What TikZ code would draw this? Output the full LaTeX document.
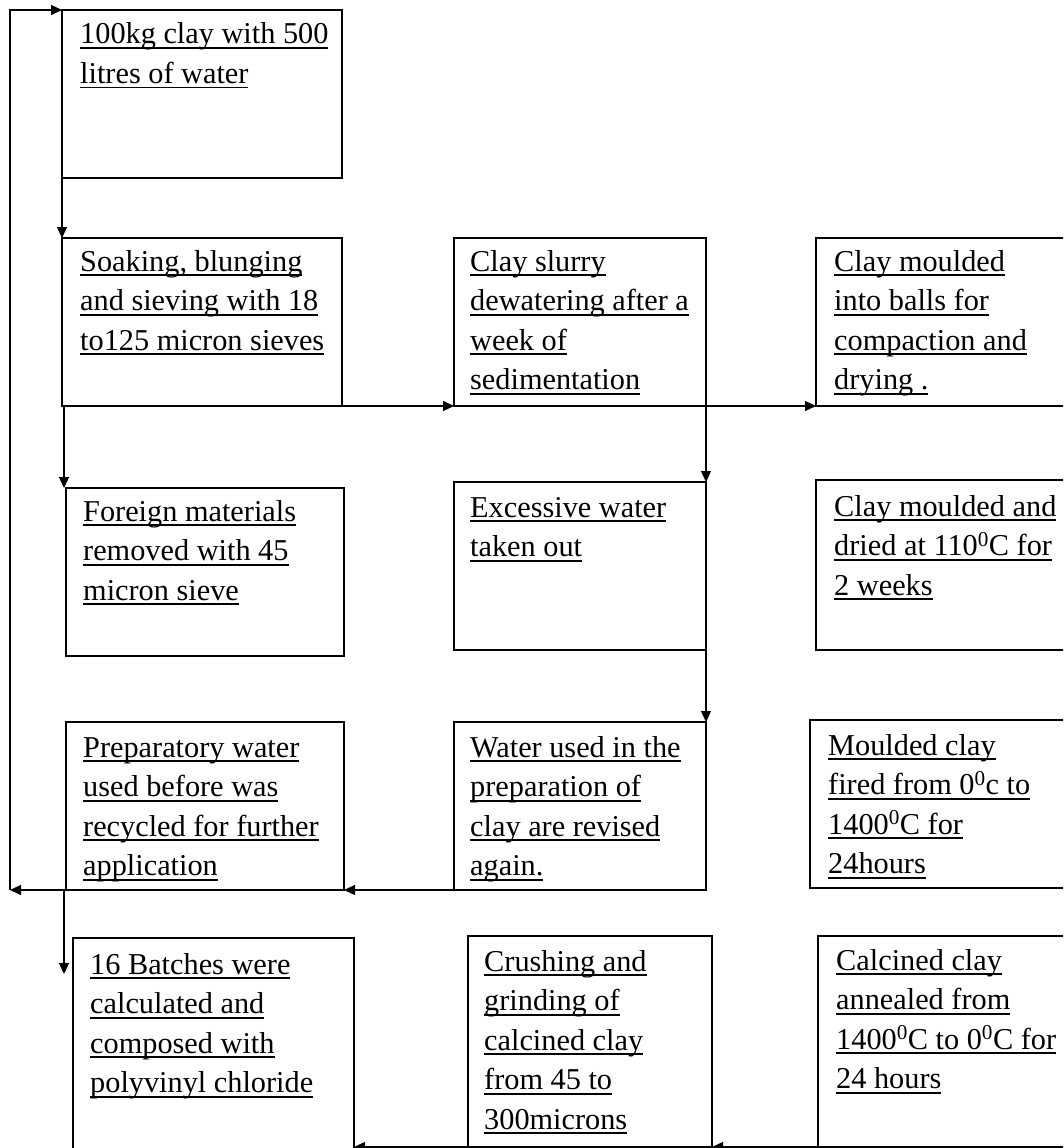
\documentclass[tikz,border=0pt]{standalone}
\usepackage{fontspec}
\setmainfont{Liberation Serif}
\usetikzlibrary{arrows.meta}
\newcommand\ulx[1]{\leavevmode\setbox0\hbox{#1}\rlap{\rule[-5pt]{\wd0}{1.6pt}}\box0}
\newcommand\sdeg{\textsuperscript{0}}
\newcommand\boxlines[1]{\parbox[t]{420pt}{\raggedright #1}}
\begin{document}
\begin{tikzpicture}[x=1pt,y=-1pt,
  boxst/.style={draw, line width=1.3pt, rectangle, inner sep=0pt, outer sep=0pt, anchor=north west},
  txt/.style={anchor=base west, inner sep=0pt, font=\fontsize{30.3}{39.5}\selectfont},
  arr/.style={line width=1.3pt, -{Triangle[length=11pt,width=10pt]}}]
\fill[white] (0,0) rectangle (1063,1148);
\useasboundingbox (0,0) rectangle (1063,1148);
\clip (0,0) rectangle (1063,1148);
% boxes
\node[boxst, minimum width=280pt, minimum height=168pt] (A) at (62,10) {};
\node[boxst, minimum width=280pt, minimum height=168pt] (B) at (62,238) {};
\node[boxst, minimum width=252pt, minimum height=168pt] (C) at (454,238) {};
\node[boxst, minimum width=260pt, minimum height=168pt] (D) at (816,238) {};
\node[boxst, minimum width=278pt, minimum height=168pt] (E) at (66,488) {};
\node[boxst, minimum width=252pt, minimum height=168pt] (F) at (454,482) {};
\node[boxst, minimum width=260pt, minimum height=170pt] (G) at (816,480) {};
\node[boxst, minimum width=278pt, minimum height=168pt] (H) at (66,722) {};
\node[boxst, minimum width=252pt, minimum height=168pt] (I) at (454,722) {};
\node[boxst, minimum width=266pt, minimum height=168pt] (J) at (810,720) {};
\node[boxst, minimum width=281pt, minimum height=240pt] (K) at (73,938) {};
\node[boxst, minimum width=244pt, minimum height=211pt] (L) at (468,936) {};
\node[boxst, minimum width=258pt, minimum height=211pt] (M) at (818,936) {};
% texts
\node[txt] (tA) at (80,44) {\boxlines{\ulx{100kg clay with 500}\\\ulx{litres of water}}};
\node[txt] (tB) at (80,271) {\boxlines{\ulx{Soaking, blunging}\\\ulx{and sieving with 18}\\\ulx{to125 micron sieves}}};
\node[txt] (tC) at (470,271) {\boxlines{\ulx{Clay slurry}\\\ulx{dewatering after a}\\\ulx{week of}\\\ulx{sedimentation}}};
\node[txt] (tD) at (834,271) {\boxlines{\ulx{Clay moulded}\\\ulx{into balls for}\\\ulx{compaction and}\\\ulx{drying .}}};
\node[txt] (tE) at (83,521) {\boxlines{\ulx{Foreign materials}\\\ulx{removed with 45}\\\ulx{micron sieve}}};
\node[txt] (tF) at (470,517) {\boxlines{\ulx{Excessive water}\\\ulx{taken out}}};
\node[txt] (tG) at (834,516) {\boxlines{\ulx{Clay moulded and}\\\ulx{dried at 110\sdeg C for}\\\ulx{2 weeks}}};
\node[txt] (tH) at (83,757) {\boxlines{\ulx{Preparatory water}\\\ulx{used before was}\\\ulx{recycled for further}\\\ulx{application}}};
\node[txt] (tI) at (470,757) {\boxlines{\ulx{Water used in the}\\\ulx{preparation of}\\\ulx{clay are revised}\\\ulx{again.}}};
\node[txt] (tJ) at (828,755) {\boxlines{\ulx{Moulded clay}\\\ulx{fired from 0\sdeg c to}\\\ulx{1400\sdeg C for}\\\ulx{24hours}}};
\node[txt] (tK) at (90,974) {\boxlines{\ulx{16 Batches were}\\\ulx{calculated and}\\\ulx{composed with}\\\ulx{polyvinyl chloride}}};
\node[txt] (tL) at (484,971) {\boxlines{\ulx{Crushing and}\\\ulx{grinding of}\\\ulx{calcined clay}\\\ulx{from 45 to}\\\ulx{300microns}}};
\node[txt] (tM) at (836,970) {\boxlines{\ulx{Calcined clay}\\\ulx{annealed from}\\\ulx{1400\sdeg C to 0\sdeg C for}\\\ulx{24 hours}}};
% coordinates
\coordinate (tl) at (10,10);
\coordinate (bl) at (10,890);
\coordinate (b1) at (64,406);
\coordinate (h1) at (64,890);
\coordinate (k1) at (64,974);
% connectors
\draw[arr] (A.south west) -- (B.north west);
\draw[arr] (B.south east) -- (C.south west);
\draw[arr] (C.south east) -- (D.south west);
\draw[arr] (b1) -- (b1 |- E.north);
\draw[arr] (C.south east) -- (F.north east);
\draw[arr] (F.south east) -- (I.north east);
\draw[arr] (I.south west) -- (H.south east);
\draw[arr] (H.south west) -- (bl);
\draw[arr] (bl) -- (tl) -- (A.north west);
\draw[arr] (h1) -- (k1);
\draw[arr] (M.south west) -- (L.south east);
\draw[arr] (L.south west) -- (K.east |- L.south);
\end{tikzpicture}
\end{document}
